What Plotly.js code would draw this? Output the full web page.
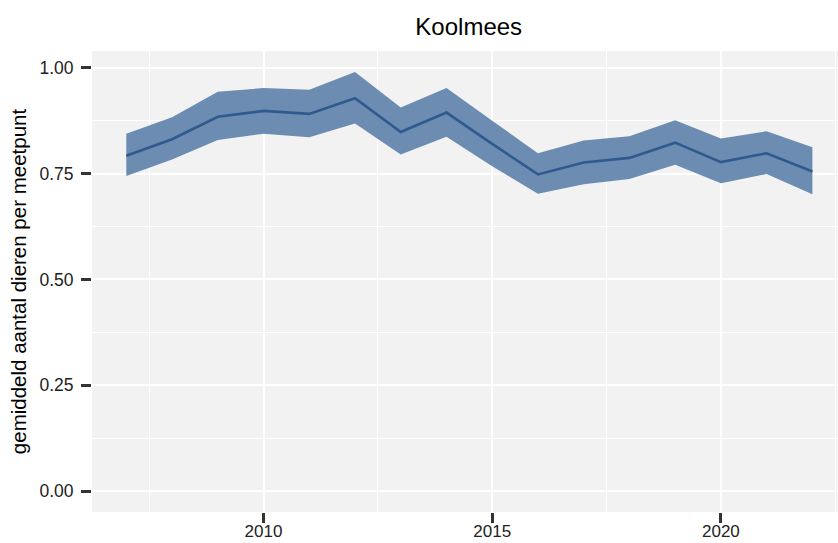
<!DOCTYPE html>
<html><head><meta charset="utf-8">
<script src="https://cdn.plot.ly/plotly-3.0.1.min.js"></script>
<style>html,body{margin:0;padding:0;background:#fff}#c{width:838px;height:543px}</style>
</head><body><div id="c"></div>
<script>
const years = [2007,2008,2009,2010,2011,2012,2013,2014,2015,2016,2017,2018,2019,2020,2021,2022];
const mean  = [0.792,0.831,0.884,0.898,0.891,0.928,0.848,0.894,0.820,0.748,0.776,0.787,0.823,0.777,0.798,0.755];
const upper = [0.844,0.883,0.943,0.952,0.948,0.990,0.906,0.952,0.875,0.798,0.828,0.838,0.876,0.833,0.850,0.812];
const lower = [0.744,0.783,0.829,0.844,0.836,0.868,0.795,0.837,0.767,0.702,0.725,0.737,0.771,0.727,0.749,0.701];
const yTicks = [0, 0.25, 0.5, 0.75, 1.0];
const xTicks = [2010, 2015, 2020];

const font = "Liberation Sans, Arial, sans-serif";
const traces = [
  {x: years, y: lower, mode: 'lines', line: {width: 0, color: 'rgba(0,0,0,0)'}, hoverinfo: 'skip', showlegend: false},
  {x: years, y: upper, mode: 'lines', line: {width: 0, color: 'rgba(0,0,0,0)'}, fill: 'tonexty', fillcolor: 'rgb(108,140,178)', hoverinfo: 'skip', showlegend: false},
  {x: years, y: mean, mode: 'lines', line: {width: 2.6, color: '#2f5a8e'}, showlegend: false}
];
const layout = {
  width: 838, height: 543,
  margin: {l: 92, r: 0, t: 51, b: 31, pad: 0},
  paper_bgcolor: '#ffffff', plot_bgcolor: '#f2f2f2',
  title: {text: 'Koolmees', xref: 'paper', x: 0.505, xanchor: 'center', yref: 'container', y: 0.951, yanchor: 'middle', font: {family: font, size: 24, color: '#000'}},
  xaxis: {
    range: [2006.25, 2022.56], tickvals: xTicks, ticktext: xTicks.map(String),
    showgrid: true, gridcolor: '#ffffff', gridwidth: 2, zeroline: false, showline: false,
    ticks: 'outside', ticklen: 10, tickwidth: 3, tickcolor: '#333',
    ticklabelstandoff: -6,
    tickfont: {family: font, size: 17, color: '#222'},
    minor: {dtick: 5, tick0: 2007.5, showgrid: true, gridcolor: '#ffffff', gridwidth: 1, ticks: ''}
  },
  yaxis: {
    range: [-0.0495, 1.0395], tickvals: yTicks, ticktext: yTicks.map(v => v.toFixed(2)),
    showgrid: true, gridcolor: '#ffffff', gridwidth: 2, zeroline: false, showline: false,
    ticks: 'outside', ticklen: 10, tickwidth: 3, tickcolor: '#333',
    ticklabelstandoff: 4,
    tickfont: {family: font, size: 17.5, color: '#222'},
    title: {text: 'gemiddeld aantal dieren per meetpunt', font: {family: font, size: 20.5, color: '#000'}, standoff: 7},
    minor: {dtick: 0.25, tick0: 0.125, showgrid: true, gridcolor: '#ffffff', gridwidth: 1, ticks: ''}
  }
};
Plotly.newPlot('c', traces, layout, {displayModeBar: false, staticPlot: true});
</script></body></html>
